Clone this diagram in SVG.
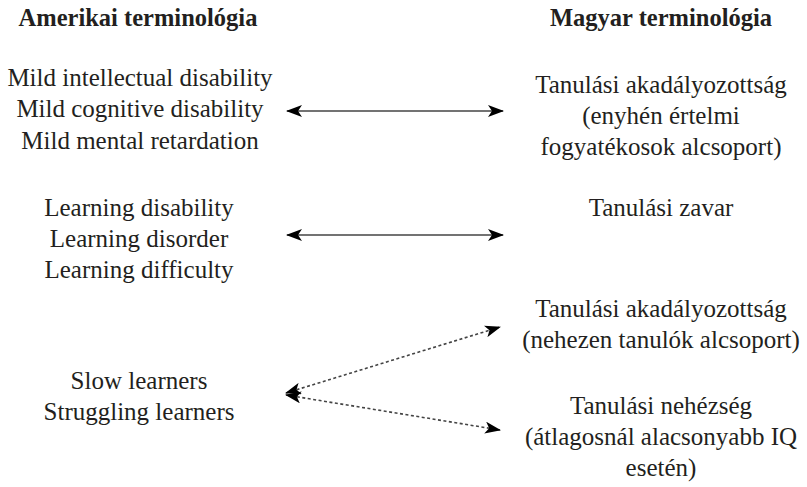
<svg xmlns="http://www.w3.org/2000/svg" id="d" width="807" height="487" viewBox="0 0 807 487" font-family="Liberation Serif, serif">
<defs>
<marker id="ah" markerWidth="16" markerHeight="12" viewBox="0 0 16 12" refX="15" refY="6" orient="auto-start-reverse" markerUnits="userSpaceOnUse">
<path d="M0,0 L16,6 L0,12 L4,6 Z" fill="#000"/>
</marker>
</defs>
<style>
#d text{font-family:'Liberation Serif',serif;font-size:25px;fill:#231f20;text-anchor:middle}
#d text.h{font-weight:bold;font-size:24.5px}
.c{stroke:#444;stroke-width:1.6;fill:none;marker-start:url(#ah);marker-end:url(#ah)}
.d{stroke-dasharray:3 2.5}
</style>
<g id="title-left"><text class="h" x="138" y="26">Amerikai terminológia</text></g>
<g id="title-right"><text class="h" x="661" y="26">Magyar terminológia</text></g>
<g id="n-mild">
<text x="140" y="86">Mild intellectual disability</text>
<text x="140" y="117">Mild cognitive disability</text>
<text x="140" y="149">Mild mental retardation</text>
</g>
<g id="n-akad1">
<text x="661" y="93">Tanulási akadályozottság</text>
<text x="661" y="124">(enyhén értelmi</text>
<text x="661" y="155">fogyatékosok alcsoport)</text>
</g>
<g id="n-learning">
<text x="139" y="216">Learning disability</text>
<text x="139" y="247">Learning disorder</text>
<text x="139" y="278">Learning difficulty</text>
</g>
<g id="n-zavar"><text x="661" y="216">Tanulási zavar</text></g>
<g id="n-slow">
<text x="139" y="389">Slow learners</text>
<text x="139" y="420">Struggling learners</text>
</g>
<g id="n-akad2">
<text x="661" y="317">Tanulási akadályozottság</text>
<text x="661" y="348">(nehezen tanulók alcsoport)</text>
</g>
<g id="n-nehez">
<text x="661" y="414">Tanulási nehézség</text>
<text x="661" y="445">(átlagosnál alacsonyabb IQ</text>
<text x="661" y="476">esetén)</text>
</g>
<g id="connectors">
<line class="c" x1="287" y1="111" x2="503" y2="111"/>
<line class="c" x1="287" y1="235" x2="503" y2="235"/>
<line class="c d" x1="286" y1="393" x2="500" y2="327"/>
<line class="c d" x1="286" y1="395" x2="500" y2="430"/>
</g>
</svg>
